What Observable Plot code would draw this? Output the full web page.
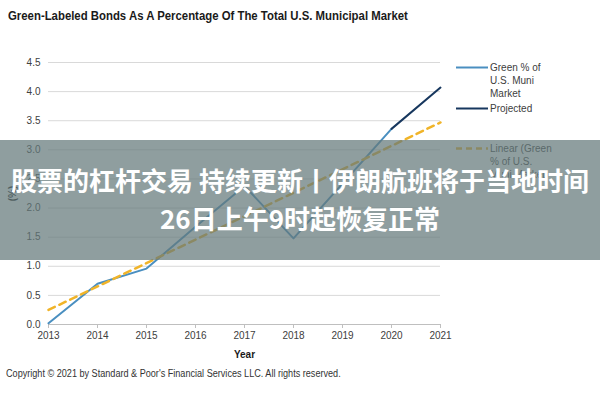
<!DOCTYPE html>
<html><head><meta charset="utf-8">
<script src="https://cdn.jsdelivr.net/npm/d3@7"></script>
<script src="https://cdn.jsdelivr.net/npm/@observablehq/plot@0.6"></script>
<style>
body{margin:0;background:#fff;width:600px;height:400px;overflow:hidden;position:relative;font-family:"Liberation Sans Narrow","Arial Narrow","Liberation Sans",Arial,sans-serif;}
#title{position:absolute;left:8px;top:8px;font-size:13px;font-weight:bold;color:#1a1a1a;white-space:nowrap;transform:scaleX(0.875);transform-origin:0 0;}
#chart{position:absolute;left:0;top:30px;}
#caption{position:absolute;left:6px;top:368px;font-size:10px;color:#333;white-space:nowrap;transform:scaleX(0.91);transform-origin:0 0;}
.leg{position:absolute;left:456px;display:flex;align-items:flex-start;font-size:10px;color:#404040;line-height:13px;}
.leg svg{flex:none;margin-top:0px;}
.leg div{width:62px;margin-left:2px;}
#banner{position:absolute;left:0;top:140px;width:600px;height:120px;background:rgba(100,120,122,0.72);color:#fff;font-family:"Noto Sans CJK SC",sans-serif;font-weight:bold;font-size:26px;text-align:center;line-height:38px;padding-top:21px;box-sizing:border-box;white-space:nowrap;}
</style></head>
<body>
<div id="title"></div>
<div id="chart"></div>
<div id="legend"></div>
<div id="caption"></div>
<div id="banner"></div>
<script>
const titleText = "Green-Labeled Bonds As A Percentage Of The Total U.S. Municipal Market";
const captionText = "Copyright \u00a9 2021 by Standard & Poor's Financial Services LLC. All rights reserved.";
const bannerLines = ["股票的杠杆交易 持续更新丨伊朗航班将于当地时间", "26日上午9时起恢复正常"];

const years = [2013, 2014, 2015, 2016, 2017, 2018, 2019, 2020];
const greenShare = [0.02, 0.70, 0.96, 1.68, 2.38, 1.48, 2.42, 3.36];
const projYears = [2020, 2021];
const projShare = [3.36, 4.07];
const trendYears = [2013, 2021];
const trendShare = [0.25, 3.47];
const xTicks = [2013, 2014, 2015, 2016, 2017, 2018, 2019, 2020, 2021];
const yTicks = [0, 0.5, 1, 1.5, 2, 2.5, 3, 3.5, 4, 4.5];
const legendLabels = ["Green % of U.S. Muni Market", "Projected", "Linear (Green % of U.S. Muni Market)"];
const colors = ["#4a8fc0", "#17375e", "#f0b429"];

const green = years.map((y, i) => ({year: y, v: greenShare[i]}));
const proj = projYears.map((y, i) => ({year: y, v: projShare[i]}));
const trend = trendYears.map((y, i) => ({year: y, v: trendShare[i]}));

document.getElementById("title").textContent = titleText;
document.getElementById("caption").textContent = captionText;
document.getElementById("banner").innerHTML = bannerLines.map(s => `<div>${s}</div>`).join("");

const chart = Plot.plot({
  width: 600,
  height: 335,
  marginLeft: 48,
  marginRight: 160,
  marginTop: 32,
  marginBottom: 41,
  style: {fontFamily: '"Liberation Sans Narrow","Arial Narrow","Liberation Sans",Arial,sans-serif', fontSize: "10px", color: "#404040", background: "transparent"},
  x: {domain: [2013, 2021]},
  y: {domain: [0, 4.5]},
  marks: [
    Plot.gridY(yTicks, {stroke: "#d9d9d9", strokeOpacity: 1}),
    Plot.ruleY([0], {stroke: "#bfbfbf"}),
    Plot.axisX({ticks: xTicks, tickFormat: "d", tickSize: 4, stroke: "#bfbfbf", tickPadding: 3, label: "Year", labelAnchor: "center", labelArrow: "none", labelOffset: 33}),
    Plot.axisY({ticks: yTicks, tickFormat: ".1f", tickSize: 0, tickPadding: 8, label: "(%)", labelAnchor: "center", labelArrow: "none", labelOffset: 40}),
    Plot.line(green, {x: "year", y: "v", stroke: colors[0], strokeWidth: 2}),
    Plot.line(proj, {x: "year", y: "v", stroke: colors[1], strokeWidth: 2}),
    Plot.line(trend, {x: "year", y: "v", stroke: colors[2], strokeWidth: 2.5, strokeDasharray: "7,5"})
  ]
});
document.getElementById("chart").appendChild(chart);
d3.select(chart).selectAll("[aria-label='x-axis label'] text, [aria-label='y-axis label'] text").style("font-weight", "bold").style("fill", "#1a1a1a");

const legTops = [61, 102, 142];
const legend = document.getElementById("legend");
legendLabels.forEach((lab, i) => {
  const d = document.createElement("div");
  d.className = "leg";
  d.style.top = legTops[i] + "px";
  const dash = i === 2 ? 'stroke-dasharray="6,4"' : "";
  d.innerHTML = `<svg width="32" height="13"><line x1="0" x2="32" y1="6.5" y2="6.5" stroke="${colors[i]}" stroke-width="${i===2?2.5:2}" ${dash}/></svg><div>${lab}</div>`;
  legend.appendChild(d);
});
</script>
</body></html>
